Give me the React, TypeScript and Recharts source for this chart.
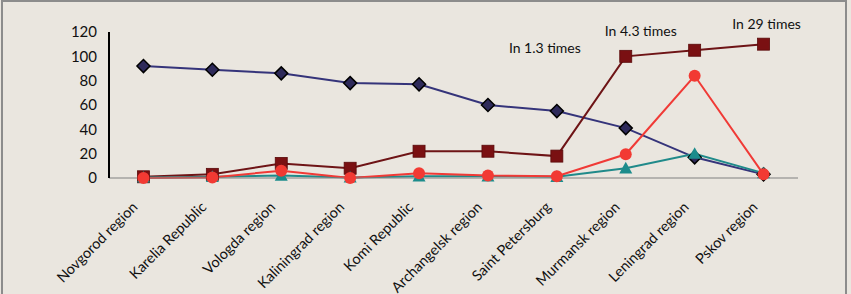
import React from 'react';
import { LineChart, Line, XAxis, YAxis, ReferenceDot } from 'recharts';

const categories = [
  'Novgorod region', 'Karelia Republic', 'Vologda region', 'Kaliningrad region', 'Komi Republic',
  'Archangelsk region', 'Saint Petersburg', 'Murmansk region', 'Leningrad region', 'Pskov region',
];
const seriesDiamond = [92, 89, 86, 78, 77, 60, 55, 41, 17, 3];
const seriesSquare = [1, 3, 12, 8, 22, 22, 18, 100, 105, 110];
const seriesTriangle = [0.5, 1, 2, 0.5, 1.5, 1.5, 1, 8, 20, 4];
const seriesCircle = [0, 0.5, 6, 0, 4, 2, 1.5, 19.5, 84, 3];
const yTicks = [0, 20, 40, 60, 80, 100, 120];

const annotationTexts = ['In 1.3 times', 'In 4.3 times', 'In 29 times'];
const annotationCats = ['Saint Petersburg', 'Murmansk region', 'Pskov region'];
const annotationValues = [103, 117, 122.5];
const annotationOffsets = [-12, 15, 3];

const data = categories.map((c, i) => ({
  name: c,
  d: seriesDiamond[i],
  s: seriesSquare[i],
  t: seriesTriangle[i],
  c: seriesCircle[i],
}));

const FONT = 'Lato, "Open Sans", sans-serif';

const Diamond = (props: any) => {
  const { cx, cy, index } = props;
  if (cx == null || cy == null) return <g key={`d${index}`} />;
  const r = 6.5;
  return (
    <path key={`d${index}`} d={`M${cx},${cy - r}L${cx + r},${cy}L${cx},${cy + r}L${cx - r},${cy}Z`}
      fill="#2E2A5A" stroke="#000" strokeWidth={1.5} />
  );
};
const Square = (props: any) => {
  const { cx, cy, index } = props;
  if (cx == null || cy == null) return <g key={`s${index}`} />;
  const r = 6;
  return <rect key={`s${index}`} x={cx - r} y={cy - r} width={2 * r} height={2 * r} fill="#7A1012" stroke="#5A0A0A" strokeWidth={0.8} />;
};
const Triangle = (props: any) => {
  const { cx, cy, index } = props;
  if (cx == null || cy == null) return <g key={`t${index}`} />;
  const r = 6.5;
  return <path key={`t${index}`} d={`M${cx},${cy - r}L${cx + r},${cy + r * 0.8}L${cx - r},${cy + r * 0.8}Z`} fill="#1C8C8C" />;
};
const Circle = (props: any) => {
  const { cx, cy, index } = props;
  if (cx == null || cy == null) return <g key={`c${index}`} />;
  return <circle key={`c${index}`} cx={cx} cy={cy} r={6} fill="#F23A33" />;
};

const XTick = (props: any) => {
  const { x, y, payload } = props;
  return (
    <g transform={`translate(${x - 5},${y + 30})`}>
      <text x={0} y={0} textAnchor="end" transform="rotate(-45)" fontFamily={FONT} fontSize={14.5} fill="#111">
        {payload.value}
      </text>
    </g>
  );
};

export default function App() {
  return (
    <div style={{ position: 'fixed', left: 0, top: 0, width: 851, height: 294, background: '#EAE6DF', overflow: 'hidden' }}>
      <div style={{ position: 'absolute', left: 1, top: 0, width: 846, height: 310, border: '2px solid #8C8C8C', boxSizing: 'border-box' }} />
      <LineChart width={851} height={294} data={data} margin={{ top: 32, right: 53, bottom: 0, left: 0 }}>
        <XAxis dataKey="name" scale="band" height={116} tickLine={false} tickSize={0} tickMargin={0}
          axisLine={{ stroke: '#808080', strokeWidth: 1 }} interval={0} tick={<XTick />} />
        <YAxis domain={[0, 120]} ticks={yTicks} width={109} tickLine={false} tickSize={0} tickMargin={12}
          axisLine={{ stroke: '#000', strokeWidth: 2 }} interval={0}
          tick={{ fontFamily: FONT, fontSize: 15, fill: '#111' }} />
        <Line dataKey="d" stroke="#35347A" strokeWidth={2} dot={<Diamond />} isAnimationActive={false} />
        <Line dataKey="s" stroke="#6E1416" strokeWidth={2} dot={<Square />} isAnimationActive={false} />
        <Line dataKey="t" stroke="#208A8A" strokeWidth={2} dot={<Triangle />} isAnimationActive={false} />
        <Line dataKey="c" stroke="#F03A36" strokeWidth={2} dot={<Circle />} isAnimationActive={false} />
        {annotationTexts.map((t, i) => (
          <ReferenceDot key={t} x={annotationCats[i]} y={annotationValues[i]} r={0.01} fill="none" stroke="none"
            ifOverflow="visible"
            label={(p: any) => {
              const vb = p.viewBox || {};
              const cx = (vb.x ?? 0) + (vb.width ?? 0) / 2 + annotationOffsets[i];
              const cy = (vb.y ?? 0) + (vb.height ?? 0) / 2;
              return (
                <text x={cx} y={cy} textAnchor="middle" fontFamily={FONT} fontSize={14} fill="#111">{t}</text>
              );
            }} />
        ))}
      </LineChart>
    </div>
  );
}
